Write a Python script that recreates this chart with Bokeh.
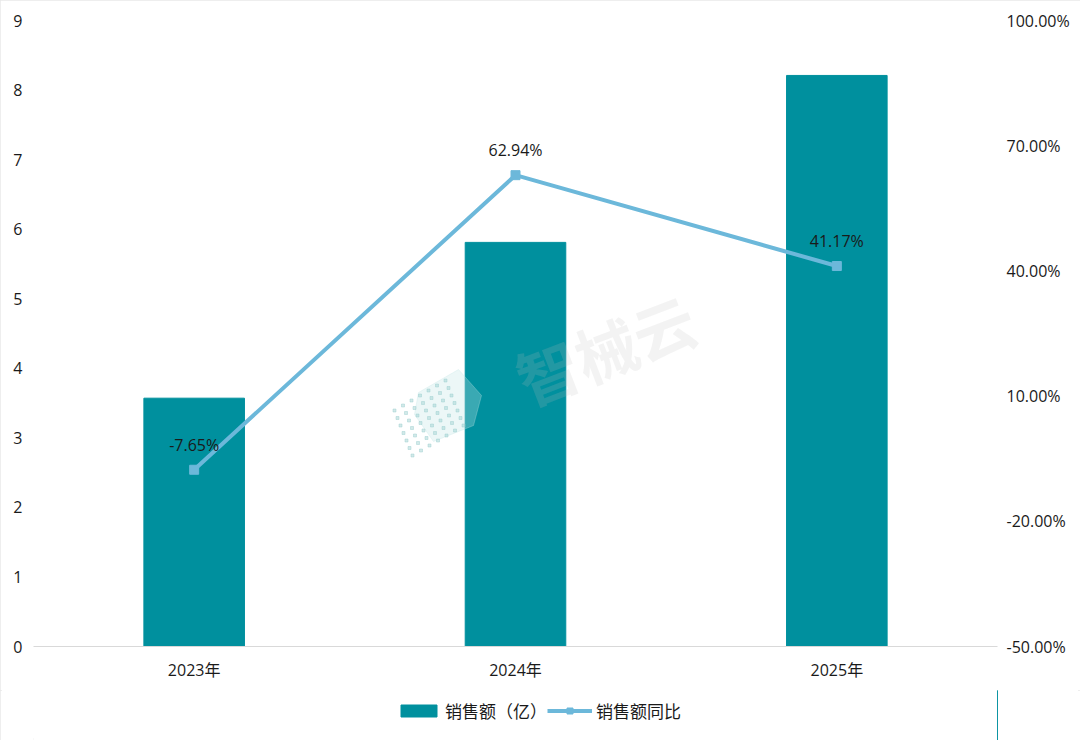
from math import radians
from bokeh.core.properties import value
from bokeh.embed import file_html
from bokeh.layouts import column
from bokeh.models import BoxAnnotation, ColumnDataSource, FactorRange, Legend, LegendItem, LinearAxis, Range1d, FixedTicker, CustomJSTickFormatter
from bokeh.plotting import figure
from bokeh.resources import INLINE

years = ["2023年", "2024年", "2025年"]
sales = [3.57, 5.81, 8.21]
growth = [-7.65, 62.94, 41.17]
left_ticks = [0, 1, 2, 3, 4, 5, 6, 7, 8, 9]
right_ticks = [-50, -20, 10, 40, 70, 100]
legend_labels = ["销售额（亿）", "销售额同比"]
FONT = "Open Sans, Noto Sans CJK SC"
TEXT = "#1a1a1a"
BAR = "#00909E"
LINE = "#6CB8DA"

src = ColumnDataSource(dict(year=years, sales=sales, growth=growth,
                            label=[f"{g:.2f}%" for g in growth]))

p = figure(width=1080, height=690, output_backend="svg", toolbar_location=None,
           x_range=FactorRange(factors=years, range_padding=0),
           y_range=Range1d(0, 9), min_border_left=33, min_border_right=83,
           min_border_top=20, min_border_bottom=44, outline_line_color=None)
p.xgrid.visible = False
p.ygrid.visible = False
p.extra_y_ranges["pct"] = Range1d(-50, 100)
# pixel height for the faint watermark only
p.extra_y_ranges["px"] = Range1d(646, 20)


def wx(px):
    """Watermark x: reference pixel to the category range's 0..3 position."""
    return (px - 33) / 321.33


p.vbar(x="year", top="sales", width=0.313, source=src, color=BAR)

# watermark
p.patch([wx(v) for v in [418, 458, 481, 473, 433, 414]], [392, 369, 395, 425, 441, 414],
        y_range_name="px", color="#BFE3E3", alpha=0.3)
dx, dy = [], []
for i in range(7):
    for j in range(7):
        dx.append(wx(394 + 8.5 * i + 3 * j))
        dy.append(410 - 5 * i + 7.5 * j)
p.scatter(dx, dy, size=3, marker="square", y_range_name="px", color="#9CCFCF", alpha=0.45)
p.text([wx(605)], [348], text=["智械云"], angle=radians(21), text_align="center",
       text_baseline="middle", text_font=value("Noto Sans CJK SC"), text_font_style="bold",
       text_font_size="62px", text_color="#BDBDBD", text_alpha=0.18, y_range_name="px")

p.line(x="year", y="growth", source=src, y_range_name="pct", line_color=LINE, line_width=4)
p.scatter(x="year", y="growth", source=src, y_range_name="pct", marker="square", size=9,
          fill_color=LINE, line_color=LINE)
p.text(x="year", y="growth", text="label", source=src, y_range_name="pct", y_offset=-25,
       text_align="center", text_baseline="middle", text_font=value(FONT),
       text_font_size="16px", text_color=TEXT)

p.yaxis.ticker = FixedTicker(ticks=left_ticks)
ax = p.yaxis[0]
ax.axis_line_color = None
ax.major_tick_line_color = None
ax.minor_tick_line_color = None
ax.major_tick_out = 0
ax.major_label_text_font = FONT
ax.major_label_text_font_size = "16px"
ax.major_label_text_color = TEXT
ax.major_label_standoff = 11

rax = LinearAxis(y_range_name="pct", ticker=FixedTicker(ticks=right_ticks),
                 formatter=CustomJSTickFormatter(code="return tick.toFixed(2) + '%';"))
rax.axis_line_color = None
rax.major_tick_line_color = None
rax.minor_tick_line_color = None
rax.major_tick_out = 0
rax.major_label_text_font = FONT
rax.major_label_text_font_size = "16px"
rax.major_label_text_color = TEXT
rax.major_label_standoff = 9
p.add_layout(rax, "right")

xa = p.xaxis[0]
xa.axis_line_color = "#D9D9D9"
xa.axis_line_width = 1
xa.major_tick_line_color = None
xa.minor_tick_line_color = None
xa.major_tick_out = 0
xa.major_label_text_font = FONT
xa.major_label_text_font_size = "16px"
xa.major_label_text_color = TEXT
xa.major_label_standoff = 12

# Legend strip under the chart: its renderers lie outside the strip's visible range,
# they only supply the swatches
p2 = figure(width=1080, height=50, output_backend="svg", toolbar_location=None,
            x_range=Range1d(0, 1), y_range=Range1d(0, 1),
            min_border=0, outline_line_color=None)
p2.grid.visible = False
p2.axis.visible = False
off = [5, 6, 7]
leg_bar = p2.vbar(x=off, top=sales, width=0.3, color=BAR)
leg_line = p2.line(x=off, y=growth, line_color=LINE, line_width=4)
leg_mark = p2.scatter(x=off, y=growth, marker="square", size=9, fill_color=LINE, line_color=LINE)
legend = Legend(items=[LegendItem(label=legend_labels[0], renderers=[leg_bar]),
                       LegendItem(label=legend_labels[1], renderers=[leg_line, leg_mark])],
                orientation="horizontal", location=(363, 17), border_line_color=None,
                background_fill_alpha=0, glyph_width=45, glyph_height=15, spacing=0,
                label_standoff=4, margin=0, padding=2,
                label_text_font=FONT, label_text_font_size="17px", label_text_color=TEXT)
p2.add_layout(legend, "center")
# white patch over the stray mark the off-range swatch renderers leave at the strip's right edge
p2.add_layout(BoxAnnotation(left=985, right=1010, top=0, bottom=50, left_units="screen",
                            right_units="screen", top_units="screen", bottom_units="screen",
                            fill_color="white", fill_alpha=1, line_color="white", line_alpha=1))

page = column(p, p2, spacing=0, styles={"outline": "2px solid #E8E8E8", "outline-offset": "-2px"})
open("out.html", "w").write(file_html(page, INLINE))
